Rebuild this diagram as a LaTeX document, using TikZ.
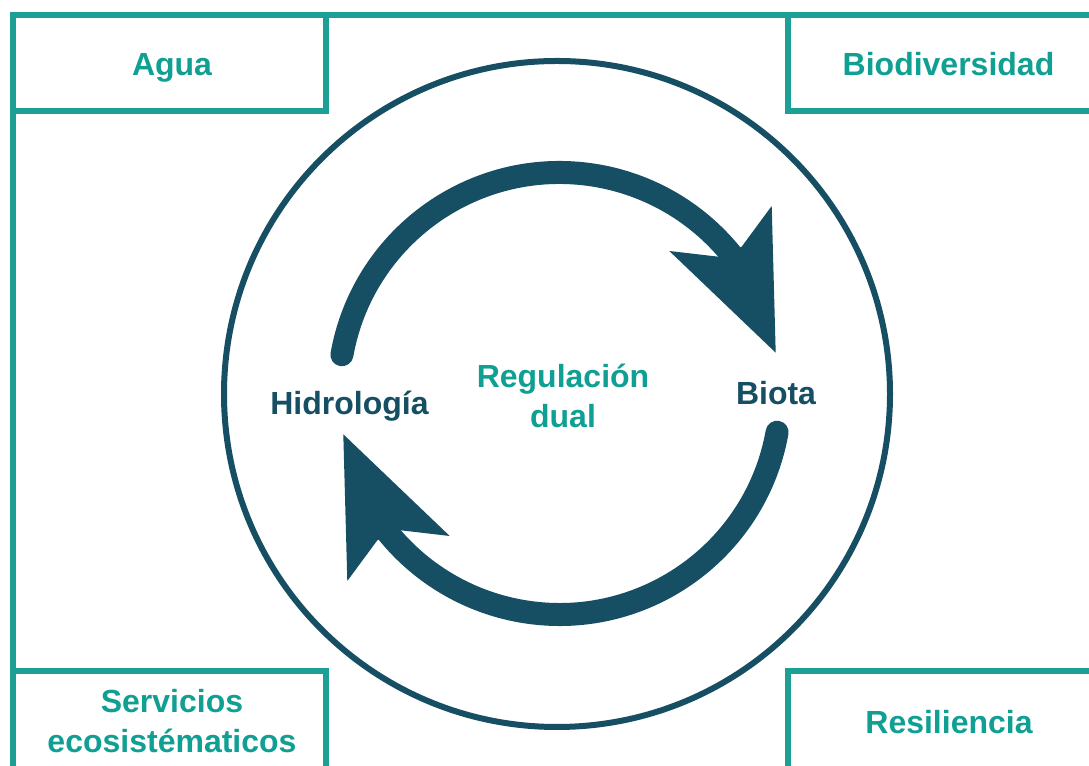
\documentclass[tikz,border=0pt]{standalone}
\usepackage{fontspec}
\setmainfont{Liberation Sans}
\definecolor{teal1}{HTML}{1C9F94}
\definecolor{tealtxt}{HTML}{0FA093}
\definecolor{navy1}{HTML}{164E63}
\begin{document}
\begin{tikzpicture}[x=0.75pt,y=0.75pt,
  box/.style={draw=teal1,line width=4.5pt},
  lbl/.style={text=tealtxt,font=\bfseries\fontsize{24}{30}\selectfont,anchor=base,inner sep=0pt,align=center},
  key/.style={text=navy1,font=\bfseries\fontsize{24}{30}\selectfont,anchor=base,inner sep=0pt},
  shaft/.style={draw=navy1,line width=17.25pt},
  head/.style={fill=navy1},
  ring/.style={draw=navy1,line width=4.5pt}]
\useasboundingbox (0,0) rectangle (1089,766);
\fill[white] (0,0) rectangle (1089,766);
\clip (0,0) rectangle (1089,766);
% frame and corner boxes
\draw[box] (12.7,-30) rectangle (1120,750.5);
\draw[box] (12.7,750.5) rectangle (326,655);
\draw[box] (788,655) rectangle (1120,750.5);
\draw[box] (12.7,-30) rectangle (326,94.5);
\draw[box] (788,-30) rectangle (1120,94.5);
% big circle
\draw[ring] (557,372) circle[radius=249.75pt];
% labels (multi-line nodes: base = baseline of last line)
\node[lbl] (agua) at (172,690) {Agua};
\node[lbl] (bio) at (948.5,690) {Biodiversidad};
\node[lbl] (serv) at (172,13) {Servicios\\ecosistématicos};
\node[lbl] (res) at (949,32.7) {Resiliencia};
\node[key] (hid) at (349.5,351) {Hidrología};
\node[key] (biota) at (776,361) {Biota};
\node[lbl] (reg) at (563,338.7) {Regulación\\dual};
% cycle arrows
\coordinate (ac) at (559.5,372.5);
\coordinate (s1) at ([shift={(169.9:165.75pt)}]ac);
\coordinate (s2) at ([shift={(349.9:165.75pt)}]ac);
\draw[shaft,line cap=round] (s1) arc[start angle=169.9,end angle=36,radius=165.75pt];
\fill[head] (775.7,413.3) -- (771.7,560) -- (741.7,519.3) -- (718.3,509.3) -- (669.3,515) -- cycle;
\draw[shaft,line cap=round] (s2) arc[start angle=349.9,end angle=216,radius=165.75pt];
\fill[head] (343.3,331.7) -- (347.3,185) -- (377.3,225.7) -- (400.7,235.7) -- (449.7,230) -- cycle;
\end{tikzpicture}
\end{document}
